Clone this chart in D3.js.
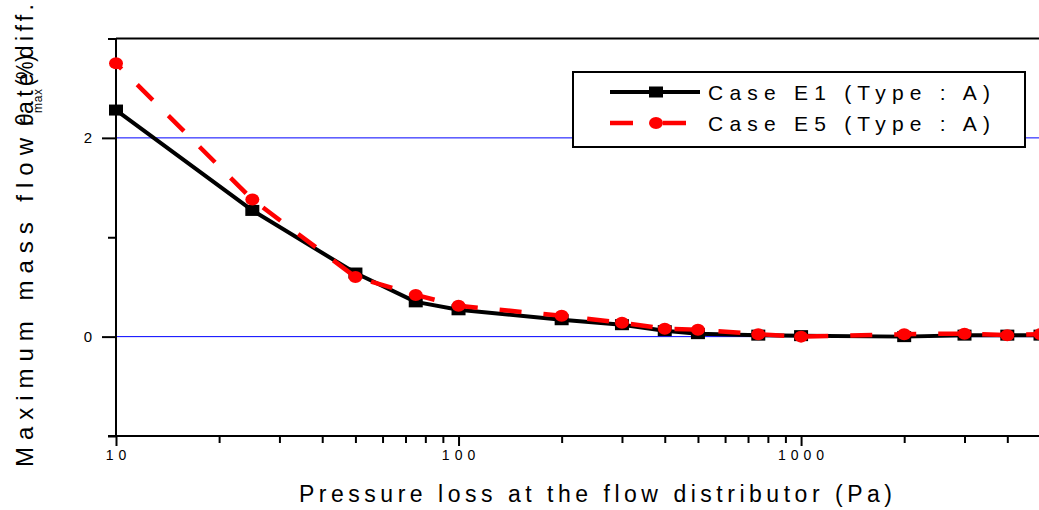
<!DOCTYPE html>
<html>
<head>
<meta charset="utf-8">
<script src="https://cdn.jsdelivr.net/npm/d3@7"></script>
<style>
  html, body { margin: 0; padding: 0; background: #fff; overflow: hidden; }
  svg { display: block; }
  text { font-family: "Liberation Sans Narrow", "Arial Narrow", "Liberation Sans", Arial, sans-serif; fill: #000; }
</style>
</head>
<body>
<svg id="chart" width="1039" height="510"></svg>
<script>
// Pressure loss at the distributor (Pa) and max. flow-rate difference (%)
const pressure = [10, 25, 50, 75, 100, 200, 300, 400, 500, 750, 1000, 2000, 3000, 4000, 5000];
const caseE1 = [2.28, 1.27, 0.64, 0.35, 0.27, 0.17, 0.12, 0.06, 0.03, 0.015, 0.01, 0.0, 0.015, 0.015, 0.015];
const caseE5 = [2.75, 1.38, 0.60, 0.42, 0.31, 0.21, 0.14, 0.08, 0.07, 0.025, 0.0, 0.025, 0.03, 0.015, 0.025];
const seriesNames = ["Case E1 (Type : A)", "Case E5 (Type : A)"];

const xMajor = [10, 100, 1000];
const xMinor = [20, 30, 40, 50, 60, 70, 80, 90, 200, 300, 400, 500, 600, 700, 800, 900, 2000, 3000, 4000, 5000];
const yMajor = [0, 2];
const yMinor = [-1, 1, 3];
const gridValues = [0, 2];

const svg = d3.select("#chart");
const x = d3.scaleLog().domain([10, 5000]).range([116, 1040.5]);
const y = d3.scaleLinear().domain([-1, 3]).range([436, 38.5]);

// horizontal grid lines
svg.append("g").selectAll("line").data(gridValues).join("line")
  .attr("x1", x(10)).attr("x2", 1039)
  .attr("y1", d => y(d)).attr("y2", d => y(d))
  .attr("stroke", "#0000ff").attr("stroke-width", 1);

// frame top line
svg.append("line").attr("x1", x(10)).attr("x2", 1039)
  .attr("y1", y(3)).attr("y2", y(3)).attr("stroke", "#000").attr("stroke-width", 2);

// x axis
const xAxisMaj = d3.axisBottom(x).tickValues(xMajor).tickSize(10).tickPadding(4).tickFormat(d3.format("d"));
const xAxisMin = d3.axisBottom(x).tickValues(xMinor).tickSize(7).tickFormat("");
const gx = svg.append("g").attr("transform", `translate(0,${y(-1)})`);
gx.call(xAxisMaj);
gx.append("g").call(xAxisMin);
gx.selectAll("path.domain").attr("stroke-width", 2).attr("d", `M${x(10) - 8},0H1039`);
gx.selectAll(".tick line").attr("stroke-width", 2);
gx.selectAll(".tick text").attr("font-size", 14).attr("letter-spacing", "5px")
  .attr("font-family", "\"Liberation Sans Narrow\", \"Liberation Sans\", sans-serif").attr("dx", "2px");

// y axis
const yAxisMaj = d3.axisLeft(y).tickValues(yMajor).tickSize(14).tickPadding(10).tickFormat(d3.format("d"));
const yAxisMin = d3.axisLeft(y).tickValues(yMinor).tickSize(8).tickFormat("");
const gy = svg.append("g").attr("transform", `translate(${x(10)},0)`);
gy.call(yAxisMaj);
gy.append("g").call(yAxisMin);
gy.selectAll("path.domain").attr("stroke-width", 2).attr("d", `M0,${y(3)}V${y(-1)}`);
gy.selectAll(".tick line").attr("stroke-width", 2);
gy.selectAll(".tick text").attr("font-size", 15)
  .attr("font-family", "\"Liberation Sans\", sans-serif");

// series lines
const line = d3.line().x(d => x(d[0])).y(d => y(d[1]));
const dataE1 = pressure.map((p, i) => [p, caseE1[i]]);
const dataE5 = pressure.map((p, i) => [p, caseE5[i]]);

svg.append("path").datum(dataE1).attr("d", line)
  .attr("fill", "none").attr("stroke", "#000").attr("stroke-width", 4).attr("stroke-linejoin", "round");
svg.append("g").selectAll("rect").data(dataE1).join("rect")
  .attr("x", d => x(d[0]) - 7).attr("y", d => y(d[1]) - 5.5)
  .attr("width", 14).attr("height", 11).attr("fill", "#000");

svg.append("path").datum(dataE5).attr("d", line)
  .attr("fill", "none").attr("stroke", "#ff0000").attr("stroke-width", 4.5)
  .attr("stroke-dasharray", "22,22").attr("stroke-dashoffset", 14);
svg.append("g").selectAll("ellipse").data(dataE5).join("ellipse")
  .attr("cx", d => x(d[0])).attr("cy", d => y(d[1]))
  .attr("rx", 7).attr("ry", 6).attr("fill", "#ff0000");

// legend
const lg = svg.append("g");
lg.append("rect").attr("x", 573).attr("y", 72).attr("width", 452).attr("height", 75)
  .attr("fill", "#fff").attr("stroke", "#000").attr("stroke-width", 2);
const rows = [92, 123];
lg.append("line").attr("x1", 610).attr("x2", 700).attr("y1", rows[0]).attr("y2", rows[0])
  .attr("stroke", "#000").attr("stroke-width", 4);
lg.append("rect").attr("x", 649).attr("y", rows[0] - 5.5).attr("width", 14).attr("height", 11).attr("fill", "#000");
lg.append("line").attr("x1", 610).attr("x2", 700).attr("y1", rows[1]).attr("y2", rows[1])
  .attr("stroke", "#ff0000").attr("stroke-width", 4.5).attr("stroke-dasharray", "23,30");
lg.append("ellipse").attr("cx", 656).attr("cy", rows[1]).attr("rx", 7).attr("ry", 6).attr("fill", "#ff0000");
lg.selectAll("text.lab").data(seriesNames).join("text").attr("class", "lab")
  .attr("x", 708).attr("y", (d, i) => rows[i] + 7.5)
  .attr("font-size", 21).attr("textLength", 282).attr("lengthAdjust", "spacing")
  .text(d => d);

// x axis title
svg.append("text").attr("x", 299).attr("y", 502).attr("font-size", 23)
  .attr("textLength", 593).attr("lengthAdjust", "spacing")
  .text("Pressure loss at the flow distributor (Pa)");

// y axis title, set in two runs, with the overlapping symbol and unit
const yt = svg.append("g");
yt.append("text").attr("transform", "translate(33,467) rotate(-90)")
  .attr("font-size", 24).attr("textLength", 329).attr("lengthAdjust", "spacing")
  .text("Maximum mass flow");
yt.append("text").attr("transform", "translate(33,126) rotate(-90)")
  .attr("font-size", 23).attr("textLength", 122).attr("lengthAdjust", "spacing")
  .text("rate diff.");
yt.append("text").attr("transform", "translate(33,126) rotate(-90)")
  .attr("font-size", 23).attr("font-family", "\"Liberation Sans\", sans-serif").text("θ");
yt.append("text").attr("transform", "translate(42,113) rotate(-90)")
  .attr("font-size", 12).attr("textLength", 24).attr("lengthAdjust", "spacing").text("max");
yt.append("text").attr("transform", "translate(33,86) rotate(-90)")
  .attr("font-size", 23).attr("textLength", 31).attr("lengthAdjust", "spacingAndGlyphs").text("(%)");
</script>
</body>
</html>
